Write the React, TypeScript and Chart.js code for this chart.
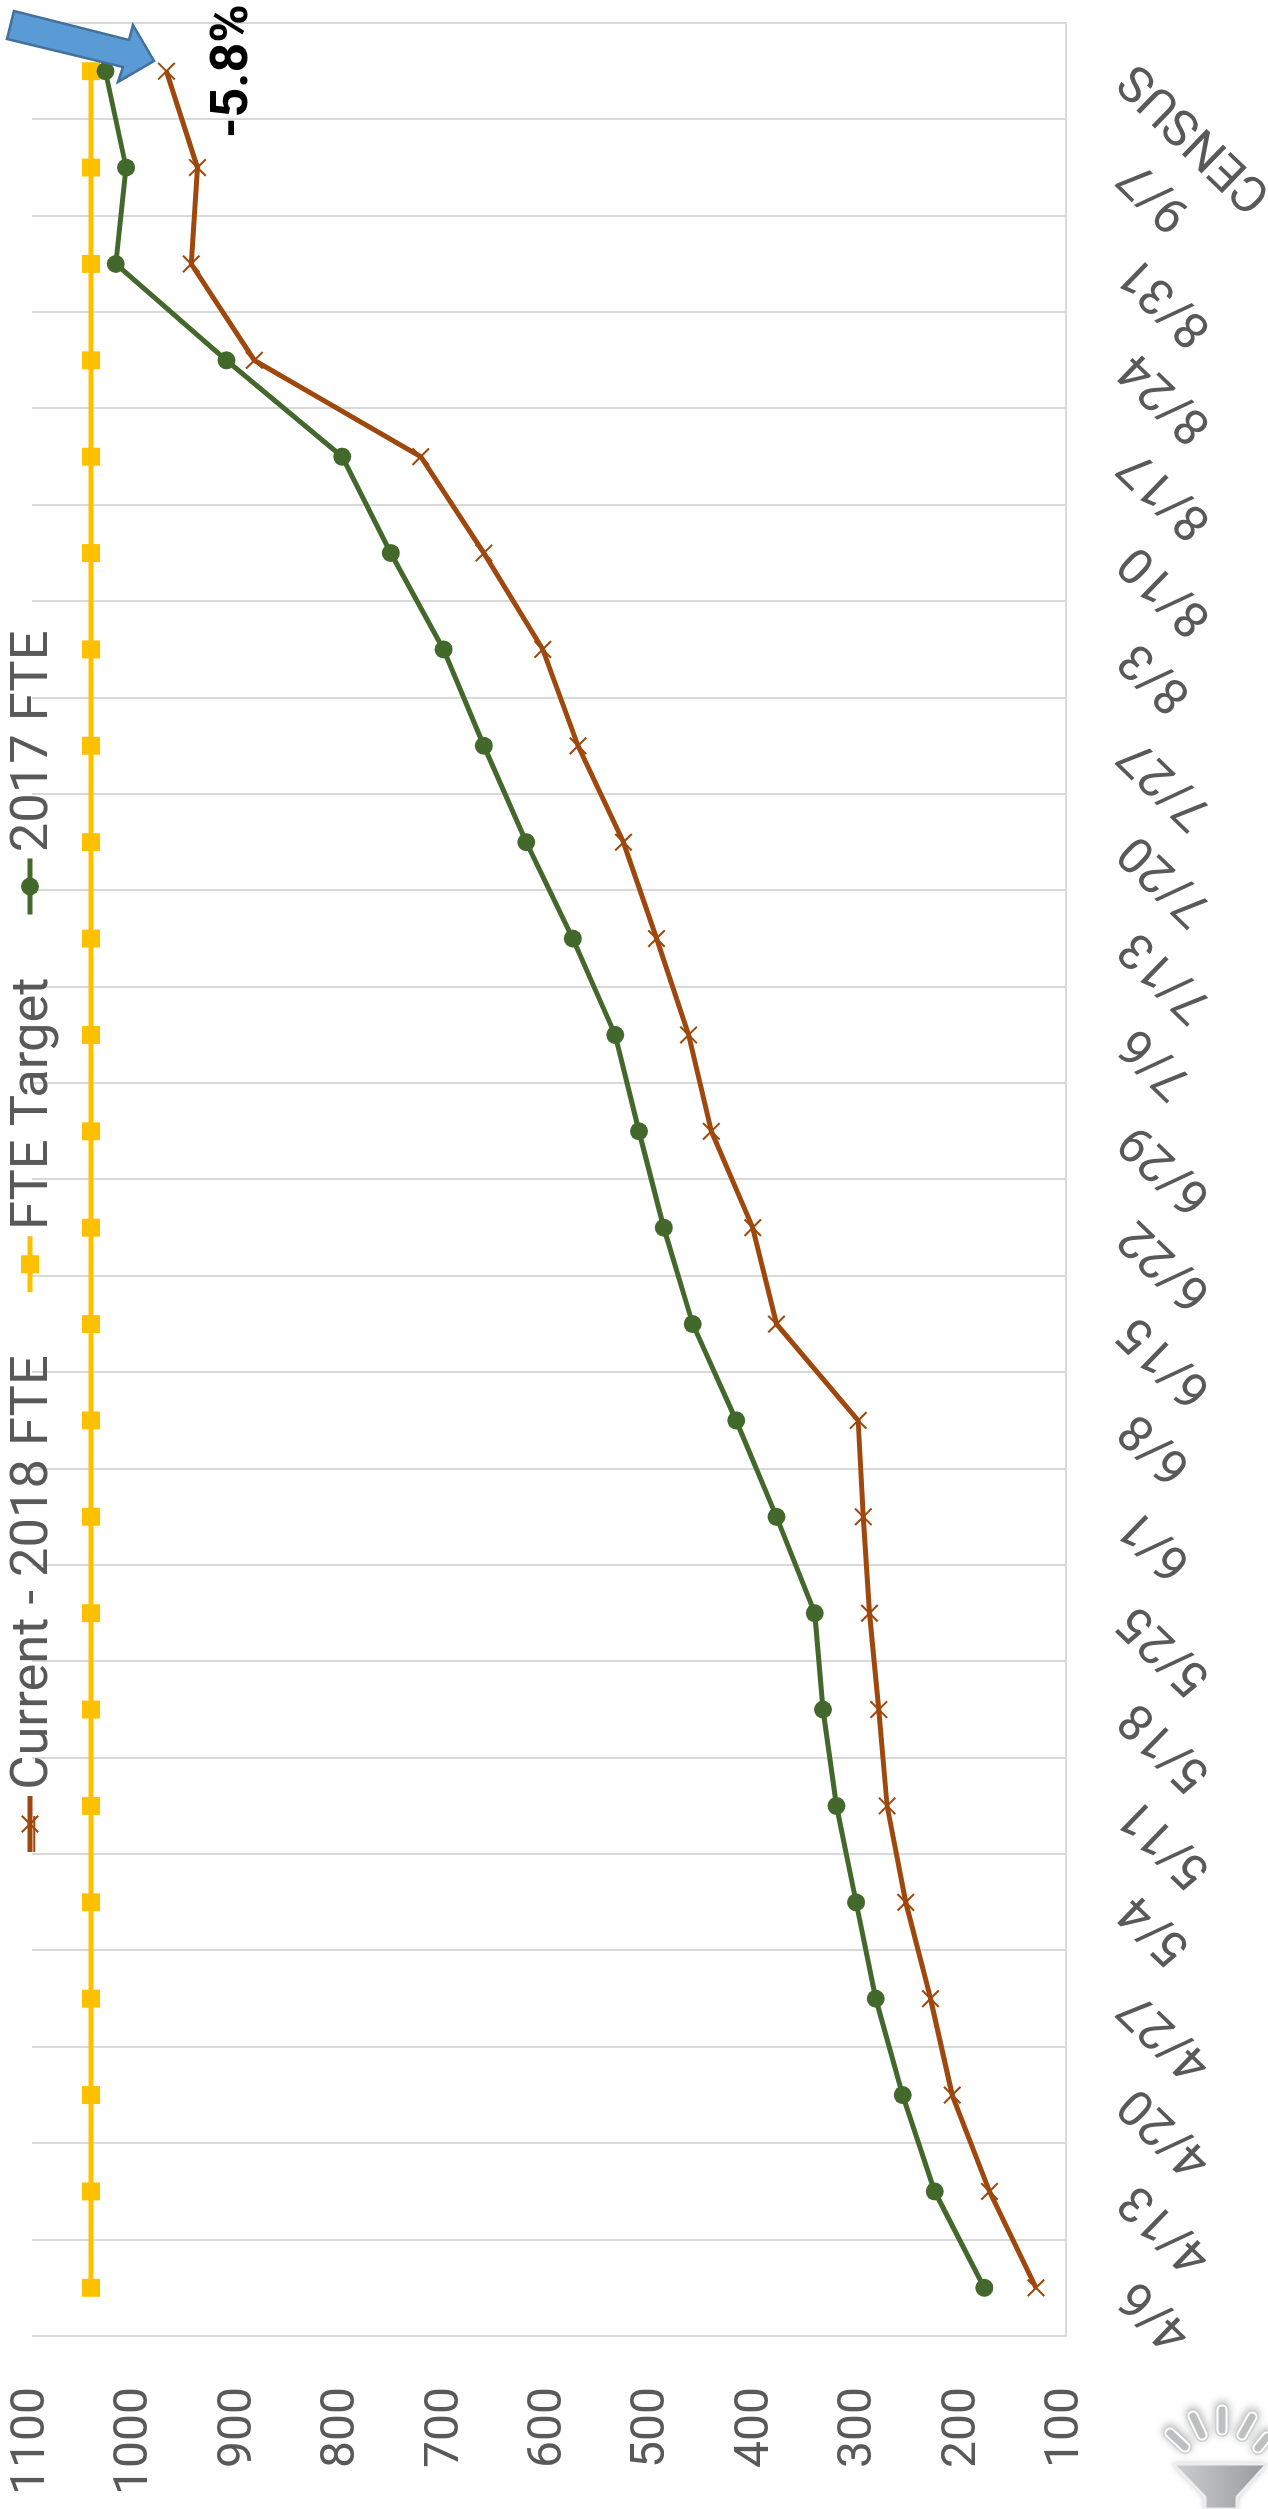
import React, { useEffect, useRef } from "react";
import { Chart, registerables } from "chart.js";

Chart.register(...registerables);

const CANVAS_W = 2509;
const CANVAS_H = 1268;

const categories = ["4/6","4/13","4/20","4/27","5/4","5/11","5/18","5/25","6/1","6/8","6/15","6/22","6/29","7/6","7/13","7/20","7/27","8/3","8/10","8/17","8/24","8/31","9/7","CENSUS"];
const current2018 = [129,174,210,231,255,273,281,290,296,301,380,403,443,465,496,528,572,606,663,724,885,946,940,970];
const fteTarget = [1043,1043,1043,1043,1043,1043,1043,1043,1043,1043,1043,1043,1043,1043,1043,1043,1043,1043,1043,1043,1043,1043,1043,1043];
const fte2017 = [179,227,258,284,303,322,335,343,380,419,461,489,513,536,577,622,663,702,753,800,912,1019,1009,1029];
const annotationText = "-5.8%";

const TEXT = "#595959";
const GRID = "#D9D9D9";
const FONT = "Roboto";

// Image coordinates (x, y) -> canvas coordinates: the chart is photographed turned a quarter turn.
const toC = (x: number, y: number): [number, number] => [CANVAS_W - y, x];

const arrowShape: [number, number][] = [[14,11],[129,40],[133,25],[154,61],[118,82],[123,67],[7,39]];

function drawFunnel(ctx: CanvasRenderingContext2D) {
  ctx.save();
  const rays: [number, number, number, number][] = [[1170,2433,1185,2447],[1193,2416,1202,2435],[1222,2410,1222,2430],[1252,2417,1242,2435],[1267,2437,1258,2448]];
  ctx.lineCap = "round";
  rays.forEach(([a, b, c, d]) => {
    const p = toC(a, b), q = toC(c, d);
    const seg = (col: string, w: number) => {
      ctx.strokeStyle = col; ctx.lineWidth = w;
      ctx.beginPath(); ctx.moveTo(p[0], p[1]); ctx.lineTo(q[0], q[1]); ctx.stroke();
    };
    ctx.shadowColor = "rgba(0,0,0,0.3)"; ctx.shadowBlur = 8; ctx.shadowOffsetX = 2; ctx.shadowOffsetY = 0;
    seg("#CFCFCF", 14);
    ctx.shadowColor = "transparent"; ctx.shadowBlur = 0; ctx.shadowOffsetX = 0;
    seg("#FFFFFF", 11);
    seg("#BDBFC1", 7);
  });
  const pts: [number, number][] = [[1173,2464],[1267,2464],[1237,2497],[1237,2509],[1205,2509],[1205,2497]];
  const s = toC(1176, 2464), e = toC(1268, 2464);
  const g = ctx.createLinearGradient(s[0], s[1], e[0], e[1]);
  g.addColorStop(0, "#CBCCCE"); g.addColorStop(1, "#98999B");
  ctx.fillStyle = g; ctx.strokeStyle = "#EDEDED"; ctx.lineWidth = 3; ctx.lineJoin = "round";
  ctx.shadowColor = "rgba(0,0,0,0.3)"; ctx.shadowBlur = 6;
  ctx.beginPath();
  pts.forEach(([a, b], i) => { const p = toC(a, b); if (i) ctx.lineTo(p[0], p[1]); else ctx.moveTo(p[0], p[1]); });
  ctx.closePath(); ctx.fill();
  ctx.shadowColor = "transparent"; ctx.shadowBlur = 0;
  ctx.stroke();
  ctx.restore();
}

const LEGEND_START = 657;
const LEGEND_GAP = 63;
const LEGEND_KEY = 56;

const layoutPlugin = {
  id: "layoutFix",
  beforeLayout(chart: any) {
    const l = chart.legend;
    if (l && !l.$wrapped) {
      const f = l.fit;
      l.fit = function () { f.call(this); this.height = 32; };
      l.$wrapped = true;
    }
  },
  afterLayout(chart: any) {
    const l = chart.legend;
    l.left = LEGEND_START - LEGEND_GAP;
    l.right = CANVAS_W;
    l.top = 8 - LEGEND_GAP;
    l.bottom = 76;
  },
  afterDraw(chart: any) {
    const ctx: CanvasRenderingContext2D = chart.ctx;
    // legend keys: line plus marker, as the spreadsheet draws them
    const l = chart.legend;
    let x = LEGEND_START;
    const cy = 30;
    l.legendItems.forEach((it: any, i: number) => {
      const ds = chart.data.datasets[it.datasetIndex];
      ctx.save();
      ctx.strokeStyle = ds.borderColor;
      ctx.lineWidth = 5;
      ctx.beginPath(); ctx.moveTo(x, cy); ctx.lineTo(x + LEGEND_KEY, cy); ctx.stroke();
      ctx.restore();
      const m = chart.getDatasetMeta(it.datasetIndex).data[0];
      const px = m.x, py = m.y;
      m.x = x + LEGEND_KEY / 2; m.y = cy;
      m.options && m.draw(ctx);
      m.x = px; m.y = py;
      x += l.legendHitBoxes[i].width + LEGEND_GAP;
    });
    // arrow
    ctx.save();
    ctx.beginPath();
    arrowShape.forEach(([a, b], i) => { const p = toC(a, b); if (i) ctx.lineTo(p[0], p[1]); else ctx.moveTo(p[0], p[1]); });
    ctx.closePath();
    ctx.fillStyle = "#5B9BD5"; ctx.strokeStyle = "#41719C"; ctx.lineWidth = 2.5; ctx.lineJoin = "miter";
    ctx.fill(); ctx.stroke();
    // annotation
    ctx.fillStyle = "#000000";
    ctx.font = `bold 52px ${FONT}`;
    ctx.textAlign = "left"; ctx.textBaseline = "alphabetic";
    const t = toC(247, 138);
    ctx.fillText(annotationText, t[0], t[1]);
    ctx.restore();
    drawFunnel(ctx);
  },
};

export default function App() {
  const ref = useRef<HTMLCanvasElement>(null);
  useEffect(() => {
    if (!ref.current) return;
    const chart = new Chart(ref.current, {
      type: "line",
      data: {
        labels: categories,
        datasets: [
          { label: "Current - 2018 FTE", data: current2018, borderColor: "#9E480E", backgroundColor: "#9E480E", borderWidth: 5, pointStyle: "crossRot", pointRadius: 11.7, pointBorderWidth: 2, pointBorderColor: "#9E480E", order: 3, tension: 0 },
          { label: "FTE Target", data: fteTarget, borderColor: "#FFC000", backgroundColor: "#FFC000", borderWidth: 5, pointStyle: "rect", pointRadius: 12.7, pointBorderWidth: 0, order: 2, tension: 0 },
          { label: "2017 FTE", data: fte2017, borderColor: "#43682B", backgroundColor: "#43682B", borderWidth: 5, pointStyle: "circle", pointRadius: 9, pointBorderWidth: 0, order: 1, tension: 0 },
        ],
      },
      options: {
        animation: false,
        responsive: false,
        devicePixelRatio: 1,
        layout: { padding: { left: 0, right: 23, top: 0, bottom: 0 } },
        plugins: {
          tooltip: { enabled: false },
          legend: {
            display: true,
            position: "top",
            align: "start",
            labels: {
              sort: (a: any, b: any) => a.datasetIndex - b.datasetIndex,
              usePointStyle: true,
              pointStyle: "line",
              pointStyleWidth: 36,
              padding: LEGEND_GAP,
              color: TEXT,
              font: { family: FONT, size: 52.5 },
            },
          },
        },
        scales: {
          x: {
            offset: true,
            grid: { display: true, offset: true, color: GRID, lineWidth: 2, drawTicks: false },
            border: { display: true, color: GRID, width: 2 },
            ticks: { color: TEXT, font: { family: FONT, size: 50 }, minRotation: 46, maxRotation: 46, autoSkip: false, padding: 42 },
            afterFit(s: any) { s.height = CANVAS_H - 1066; s.paddingLeft = 0; s.paddingRight = 0; },
          },
          y: {
            min: 100,
            max: 1100,
            grid: { display: false, drawTicks: false },
            border: { display: false },
            ticks: { color: TEXT, font: { family: FONT, size: 48 }, stepSize: 100, padding: 51, callback: (v: any) => String(v) },
            afterFit(s: any) { s.width = 173; s.paddingTop = 0; s.paddingBottom = 0; },
          },
        },
      },
      plugins: [layoutPlugin],
    } as any);
    return () => chart.destroy();
  }, []);
  return (
    <div style={{ position: "absolute", left: 0, top: 0, width: 1268, height: 2509, overflow: "hidden", background: "#fff" }}>
      <canvas
        ref={ref}
        width={CANVAS_W}
        height={CANVAS_H}
        style={{ position: "absolute", left: 0, top: 0, width: CANVAS_W, height: CANVAS_H, transformOrigin: "0 0", transform: `rotate(-90deg) translateX(-${CANVAS_W}px)` }}
      />
    </div>
  );
}
